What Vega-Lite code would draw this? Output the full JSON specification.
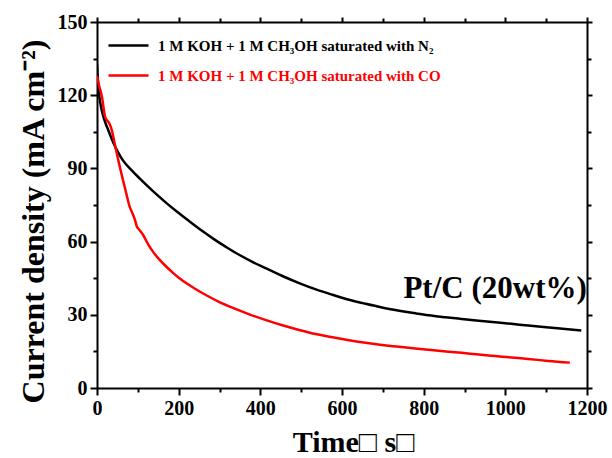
{
  "$schema": "https://vega.github.io/schema/vega-lite/v6.json",
  "width": 490,
  "height": 366,
  "autosize": {"type": "none"},
  "padding": {"left": 97, "top": 22, "right": 25, "bottom": 70},
  "background": "white",
  "config": {"view": {"stroke": null}, "font": "Liberation Serif"},
  "datasets": {
    "curves": [
      {"series": "1 M KOH + 1 M CH₃OH saturated with N₂", "t": 0, "j": 133},
      {"series": "1 M KOH + 1 M CH₃OH saturated with N₂", "t": 3, "j": 124},
      {"series": "1 M KOH + 1 M CH₃OH saturated with N₂", "t": 7, "j": 118},
      {"series": "1 M KOH + 1 M CH₃OH saturated with N₂", "t": 12, "j": 113.5},
      {"series": "1 M KOH + 1 M CH₃OH saturated with N₂", "t": 16, "j": 111},
      {"series": "1 M KOH + 1 M CH₃OH saturated with N₂", "t": 22, "j": 108},
      {"series": "1 M KOH + 1 M CH₃OH saturated with N₂", "t": 28, "j": 105.5},
      {"series": "1 M KOH + 1 M CH₃OH saturated with N₂", "t": 40, "j": 100.5},
      {"series": "1 M KOH + 1 M CH₃OH saturated with N₂", "t": 52, "j": 96.5},
      {"series": "1 M KOH + 1 M CH₃OH saturated with N₂", "t": 64, "j": 93.2},
      {"series": "1 M KOH + 1 M CH₃OH saturated with N₂", "t": 85, "j": 89.2},
      {"series": "1 M KOH + 1 M CH₃OH saturated with N₂", "t": 105, "j": 85.8},
      {"series": "1 M KOH + 1 M CH₃OH saturated with N₂", "t": 135, "j": 81},
      {"series": "1 M KOH + 1 M CH₃OH saturated with N₂", "t": 166, "j": 76.4},
      {"series": "1 M KOH + 1 M CH₃OH saturated with N₂", "t": 197, "j": 72.1},
      {"series": "1 M KOH + 1 M CH₃OH saturated with N₂", "t": 227, "j": 68.2},
      {"series": "1 M KOH + 1 M CH₃OH saturated with N₂", "t": 258, "j": 64.3},
      {"series": "1 M KOH + 1 M CH₃OH saturated with N₂", "t": 288, "j": 60.8},
      {"series": "1 M KOH + 1 M CH₃OH saturated with N₂", "t": 320, "j": 57.4},
      {"series": "1 M KOH + 1 M CH₃OH saturated with N₂", "t": 349, "j": 54.5},
      {"series": "1 M KOH + 1 M CH₃OH saturated with N₂", "t": 385, "j": 51.3},
      {"series": "1 M KOH + 1 M CH₃OH saturated with N₂", "t": 422, "j": 48.4},
      {"series": "1 M KOH + 1 M CH₃OH saturated with N₂", "t": 454, "j": 45.9},
      {"series": "1 M KOH + 1 M CH₃OH saturated with N₂", "t": 495, "j": 43},
      {"series": "1 M KOH + 1 M CH₃OH saturated with N₂", "t": 536, "j": 40.4},
      {"series": "1 M KOH + 1 M CH₃OH saturated with N₂", "t": 577, "j": 38.2},
      {"series": "1 M KOH + 1 M CH₃OH saturated with N₂", "t": 617, "j": 36.2},
      {"series": "1 M KOH + 1 M CH₃OH saturated with N₂", "t": 658, "j": 34.5},
      {"series": "1 M KOH + 1 M CH₃OH saturated with N₂", "t": 698, "j": 33.0},
      {"series": "1 M KOH + 1 M CH₃OH saturated with N₂", "t": 740, "j": 31.7},
      {"series": "1 M KOH + 1 M CH₃OH saturated with N₂", "t": 780, "j": 30.6},
      {"series": "1 M KOH + 1 M CH₃OH saturated with N₂", "t": 812, "j": 29.8},
      {"series": "1 M KOH + 1 M CH₃OH saturated with N₂", "t": 853, "j": 29.0},
      {"series": "1 M KOH + 1 M CH₃OH saturated with N₂", "t": 893, "j": 28.3},
      {"series": "1 M KOH + 1 M CH₃OH saturated with N₂", "t": 935, "j": 27.6},
      {"series": "1 M KOH + 1 M CH₃OH saturated with N₂", "t": 975, "j": 26.95},
      {"series": "1 M KOH + 1 M CH₃OH saturated with N₂", "t": 1015, "j": 26.3},
      {"series": "1 M KOH + 1 M CH₃OH saturated with N₂", "t": 1056, "j": 25.6},
      {"series": "1 M KOH + 1 M CH₃OH saturated with N₂", "t": 1100, "j": 24.9},
      {"series": "1 M KOH + 1 M CH₃OH saturated with N₂", "t": 1140, "j": 24.3},
      {"series": "1 M KOH + 1 M CH₃OH saturated with N₂", "t": 1186, "j": 23.6},
      {"series": "1 M KOH + 1 M CH₃OH saturated with CO", "t": 0, "j": 128},
      {"series": "1 M KOH + 1 M CH₃OH saturated with CO", "t": 5, "j": 124},
      {"series": "1 M KOH + 1 M CH₃OH saturated with CO", "t": 12, "j": 119.4},
      {"series": "1 M KOH + 1 M CH₃OH saturated with CO", "t": 20, "j": 111},
      {"series": "1 M KOH + 1 M CH₃OH saturated with CO", "t": 24, "j": 109.8},
      {"series": "1 M KOH + 1 M CH₃OH saturated with CO", "t": 28, "j": 109},
      {"series": "1 M KOH + 1 M CH₃OH saturated with CO", "t": 32, "j": 107.8},
      {"series": "1 M KOH + 1 M CH₃OH saturated with CO", "t": 36, "j": 105.8},
      {"series": "1 M KOH + 1 M CH₃OH saturated with CO", "t": 44, "j": 99.6},
      {"series": "1 M KOH + 1 M CH₃OH saturated with CO", "t": 54, "j": 92},
      {"series": "1 M KOH + 1 M CH₃OH saturated with CO", "t": 64, "j": 85},
      {"series": "1 M KOH + 1 M CH₃OH saturated with CO", "t": 72, "j": 79.5},
      {"series": "1 M KOH + 1 M CH₃OH saturated with CO", "t": 80, "j": 74.3},
      {"series": "1 M KOH + 1 M CH₃OH saturated with CO", "t": 87, "j": 71.5},
      {"series": "1 M KOH + 1 M CH₃OH saturated with CO", "t": 93, "j": 68.9},
      {"series": "1 M KOH + 1 M CH₃OH saturated with CO", "t": 98, "j": 66},
      {"series": "1 M KOH + 1 M CH₃OH saturated with CO", "t": 101, "j": 65.4},
      {"series": "1 M KOH + 1 M CH₃OH saturated with CO", "t": 106, "j": 64.3},
      {"series": "1 M KOH + 1 M CH₃OH saturated with CO", "t": 113, "j": 62.7},
      {"series": "1 M KOH + 1 M CH₃OH saturated with CO", "t": 125, "j": 59},
      {"series": "1 M KOH + 1 M CH₃OH saturated with CO", "t": 137, "j": 55.9},
      {"series": "1 M KOH + 1 M CH₃OH saturated with CO", "t": 153, "j": 52.6},
      {"series": "1 M KOH + 1 M CH₃OH saturated with CO", "t": 170, "j": 49.7},
      {"series": "1 M KOH + 1 M CH₃OH saturated with CO", "t": 186, "j": 47.2},
      {"series": "1 M KOH + 1 M CH₃OH saturated with CO", "t": 202, "j": 45},
      {"series": "1 M KOH + 1 M CH₃OH saturated with CO", "t": 220, "j": 42.8},
      {"series": "1 M KOH + 1 M CH₃OH saturated with CO", "t": 239, "j": 40.8},
      {"series": "1 M KOH + 1 M CH₃OH saturated with CO", "t": 270, "j": 37.8},
      {"series": "1 M KOH + 1 M CH₃OH saturated with CO", "t": 300, "j": 35.2},
      {"series": "1 M KOH + 1 M CH₃OH saturated with CO", "t": 336, "j": 32.6},
      {"series": "1 M KOH + 1 M CH₃OH saturated with CO", "t": 373, "j": 30.2},
      {"series": "1 M KOH + 1 M CH₃OH saturated with CO", "t": 414, "j": 27.8},
      {"series": "1 M KOH + 1 M CH₃OH saturated with CO", "t": 454, "j": 25.7},
      {"series": "1 M KOH + 1 M CH₃OH saturated with CO", "t": 495, "j": 23.8},
      {"series": "1 M KOH + 1 M CH₃OH saturated with CO", "t": 536, "j": 22.1},
      {"series": "1 M KOH + 1 M CH₃OH saturated with CO", "t": 577, "j": 20.8},
      {"series": "1 M KOH + 1 M CH₃OH saturated with CO", "t": 617, "j": 19.6},
      {"series": "1 M KOH + 1 M CH₃OH saturated with CO", "t": 658, "j": 18.5},
      {"series": "1 M KOH + 1 M CH₃OH saturated with CO", "t": 698, "j": 17.6},
      {"series": "1 M KOH + 1 M CH₃OH saturated with CO", "t": 740, "j": 16.9},
      {"series": "1 M KOH + 1 M CH₃OH saturated with CO", "t": 780, "j": 16.2},
      {"series": "1 M KOH + 1 M CH₃OH saturated with CO", "t": 812, "j": 15.7},
      {"series": "1 M KOH + 1 M CH₃OH saturated with CO", "t": 861, "j": 14.9},
      {"series": "1 M KOH + 1 M CH₃OH saturated with CO", "t": 893, "j": 14.4},
      {"series": "1 M KOH + 1 M CH₃OH saturated with CO", "t": 935, "j": 13.7},
      {"series": "1 M KOH + 1 M CH₃OH saturated with CO", "t": 975, "j": 13.1},
      {"series": "1 M KOH + 1 M CH₃OH saturated with CO", "t": 1015, "j": 12.5},
      {"series": "1 M KOH + 1 M CH₃OH saturated with CO", "t": 1056, "j": 11.9},
      {"series": "1 M KOH + 1 M CH₃OH saturated with CO", "t": 1105, "j": 11.1},
      {"series": "1 M KOH + 1 M CH₃OH saturated with CO", "t": 1158, "j": 10.4}
    ],
    "notes": [
      {"t": 975, "j": 36.8, "label": "Pt/C (20wt%)"}
    ]
  },
  "layer": [
    {
      "data": {"name": "curves"},
      "mark": {"type": "line", "strokeWidth": 2.5, "clip": true, "interpolate": "monotone"},
      "encoding": {
        "x": {
          "field": "t", "type": "quantitative",
          "scale": {"domain": [0, 1200], "nice": false, "zero": false},
          "axis": {
            "orient": "bottom",
            "values": [0, 100, 200, 300, 400, 500, 600, 700, 800, 900, 1000, 1100, 1200],
            "labelExpr": "datum.value % 200 === 0 ? datum.label : ''",
            "format": "d",
            "tickSize": {"condition": {"test": "datum.value % 200 === 0", "value": 7}, "value": 4},
            "tickWidth": 2, "tickColor": "#000000",
            "domainWidth": 2, "domainColor": "#000000",
            "grid": false,
            "labelFont": "Liberation Serif", "labelFontSize": 20, "labelFontWeight": "bold", "labelColor": "#000000",
            "labelPadding": 3, "labelFlush": false, "labelOverlap": false,
            "title": "Time□ s□",
            "titleFont": "Liberation Serif", "titleFontSize": 30, "titleFontWeight": "bold", "titleColor": "#000000",
            "titlePadding": 9, "titleX": 256
          }
        },
        "y": {
          "field": "j", "type": "quantitative",
          "scale": {"domain": [0, 150], "nice": false},
          "axis": {
            "orient": "left",
            "values": [0, 15, 30, 45, 60, 75, 90, 105, 120, 135, 150],
            "labelExpr": "datum.value % 30 === 0 ? datum.label : ''",
            "tickSize": {"condition": {"test": "datum.value % 30 === 0", "value": 7}, "value": 4},
            "tickWidth": 2, "tickColor": "#000000",
            "domainWidth": 2, "domainColor": "#000000",
            "grid": false,
            "labelFont": "Liberation Serif", "labelFontSize": 20, "labelFontWeight": "bold", "labelColor": "#000000",
            "labelPadding": 3, "labelFlush": false, "labelOverlap": false,
            "title": "Current density (mA cm⁻²)",
            "titleFont": "Liberation Serif", "titleFontSize": 32, "titleFontWeight": "bold", "titleColor": "#000000",
            "titlePadding": 7, "titleY": 199
          }
        },
        "color": {
          "field": "series", "type": "nominal",
          "scale": {
            "domain": ["1 M KOH + 1 M CH₃OH saturated with N₂", "1 M KOH + 1 M CH₃OH saturated with CO"],
            "range": ["#000000", "#ff0000"]
          },
          "legend": {
            "orient": "none", "legendX": 10, "legendY": 2,
            "title": null, "padding": 0,
            "symbolType": "stroke", "symbolSize": 1600, "symbolStrokeWidth": 2.5,
            "labelFont": "Liberation Serif", "labelFontSize": 15, "labelFontWeight": "bold",
            "labelLimit": 400, "labelOffset": 8, "rowPadding": -1,
            "encode": {
              "labels": {"update": {"fill": {"signal": "indexof(datum.label, 'with CO') >= 0 ? '#ff0000' : '#000000'"}}}
            }
          }
        }
      }
    },
    {
      "data": {"name": "notes"},
      "mark": {"type": "text", "font": "Liberation Serif", "fontSize": 31, "fontWeight": "bold", "align": "center", "baseline": "alphabetic", "color": "#000000"},
      "encoding": {
        "x": {
          "field": "t", "type": "quantitative",
          "scale": {"domain": [0, 1200], "nice": false, "zero": false},
          "axis": {
            "orient": "top",
            "values": [0, 100, 200, 300, 400, 500, 600, 700, 800, 900, 1000, 1100, 1200],
            "labels": false, "title": null, "grid": false,
            "tickSize": {"condition": {"test": "datum.value % 200 === 0", "value": 5}, "value": 4},
            "tickWidth": 2, "tickColor": "#000000",
            "domainWidth": 2, "domainColor": "#000000"
          }
        },
        "y": {
          "field": "j", "type": "quantitative",
          "scale": {"domain": [0, 150], "nice": false},
          "axis": {
            "orient": "right",
            "values": [0, 15, 30, 45, 60, 75, 90, 105, 120, 135, 150],
            "labels": false, "title": null, "grid": false,
            "tickSize": {"condition": {"test": "datum.value % 30 === 0", "value": 5}, "value": 4},
            "tickWidth": 2, "tickColor": "#000000",
            "domainWidth": 2, "domainColor": "#000000"
          }
        },
        "text": {"field": "label"}
      }
    }
  ],
  "resolve": {"axis": {"x": "independent", "y": "independent"}}
}
